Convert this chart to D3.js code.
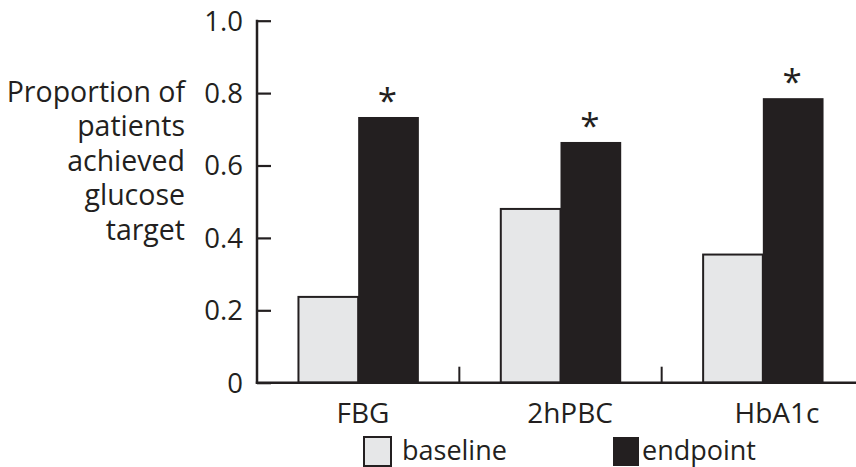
<!DOCTYPE html>
<html>
<head>
<meta charset="utf-8">
<script src="https://cdn.jsdelivr.net/npm/d3@7"></script>
<style>
  html, body { margin: 0; padding: 0; background: #fff; }
  svg { display: block; }
  text { font-family: "Open Sans", sans-serif; fill: #231f20; }
</style>
</head>
<body>
<svg id="chart" width="856" height="467"></svg>
<script>
const categories = ["FBG", "2hPBC", "HbA1c"];
const seriesNames = ["baseline", "endpoint"];
const baselineValues = [0.237, 0.48, 0.354];
const endpointValues = [0.734, 0.665, 0.786];
const significant = [true, true, true];
const yTicks = [0, 0.2, 0.4, 0.6, 0.8, 1.0];
const yTickLabels = ["0", "0.2", "0.4", "0.6", "0.8", "1.0"];
const yTitleLines = ["Proportion of", "patients", "achieved", "glucose", "target"];

const INK = "#231f20";
const LIGHT = "#e6e7e8";
const colors = { baseline: LIGHT, endpoint: INK };

const svg = d3.select("#chart");
const FS = 27.5;

const x0 = 257, x1 = 864;
const y = d3.scaleLinear().domain([0, 1]).range([382.7, 20.7]);

const xBand = d3.scaleBand().domain(categories).range([x0, x1])
  .paddingInner(0.4).paddingOuter(0.2);
const xInner = d3.scaleBand().domain(seriesNames).range([0, xBand.bandwidth()]).padding(0);
const xLabel = d3.scaleBand().domain(categories).range([259.5, 880.5]).padding(0);

const rows = categories.map((c, i) => ({
  cat: c, baseline: baselineValues[i], endpoint: endpointValues[i], sig: significant[i]
}));

// bars
const groups = svg.append("g").selectAll("g").data(rows).join("g")
  .attr("transform", d => `translate(${xBand(d.cat)},0)`);

groups.selectAll("rect").data(d => seriesNames.map(s => ({ s, v: d[s] }))).join("rect")
  .attr("x", d => xInner(d.s) + (d.s === "baseline" ? 1 : 0))
  .attr("width", d => xInner.bandwidth() - (d.s === "baseline" ? 1 : 0))
  .attr("y", d => y(d.v))
  .attr("height", d => y(0) - y(d.v))
  .attr("fill", d => colors[d.s])
  .attr("stroke", d => d.s === "baseline" ? INK : "none")
  .attr("stroke-width", 2);

// asterisks
groups.filter(d => d.sig).append("text")
  .attr("x", xInner("endpoint") + xInner.bandwidth() / 2 - 1)
  .attr("y", d => y(d.endpoint) - 4)
  .attr("text-anchor", "middle")
  .style("font-size", "35px")
  .text("*");

// y axis
const yAxisG = svg.append("g").attr("transform", `translate(${x0},0)`);
yAxisG.call(d3.axisRight(y).tickValues(yTicks).tickSize(14).tickFormat(""))
  .call(g => g.select(".domain").remove())
  .call(g => g.selectAll(".tick line").attr("stroke", INK).attr("stroke-width", 2.2));
yAxisG.append("line").attr("x1", 0).attr("x2", 0)
  .attr("y1", y(1) - 1).attr("y2", y(0) + 1)
  .attr("stroke", INK).attr("stroke-width", 2.5);

svg.append("g").selectAll("text").data(yTicks).join("text")
  .attr("x", 243)
  .attr("y", d => y(d))
  .attr("dy", "0.36em")
  .attr("text-anchor", "end")
  .style("font-size", FS + "px")
  .text((d, i) => yTickLabels[i]);

// y title
svg.append("g").selectAll("text").data(yTitleLines).join("text")
  .attr("x", 185)
  .attr("y", (d, i) => 102 + i * 34.4)
  .attr("text-anchor", "end")
  .style("font-size", "28.5px")
  .text(d => d);

// x axis
svg.append("line").attr("x1", x0 - 1.2).attr("x2", 856)
  .attr("y1", y(0)).attr("y2", y(0))
  .attr("stroke", INK).attr("stroke-width", 2.5);

const dividers = categories.slice(1).map(c => xBand(c) - xBand.step() * xBand.paddingInner() / 2);
svg.append("g").selectAll("line").data(dividers).join("line")
  .attr("x1", d => d).attr("x2", d => d)
  .attr("y1", y(0)).attr("y2", y(0) - 16)
  .attr("stroke", INK).attr("stroke-width", 2);

svg.append("g").selectAll("text").data(categories).join("text")
  .attr("x", d => xLabel(d) + xLabel.bandwidth() / 2)
  .attr("y", 423)
  .attr("text-anchor", "middle")
  .style("font-size", "28px")
  .text(d => d);

// legend
const legendX = d3.scaleOrdinal().domain(seriesNames).range([363, 613]);
const leg = svg.append("g").selectAll("g").data(seriesNames).join("g")
  .attr("transform", d => `translate(${legendX(d)},436)`);
leg.append("rect")
  .attr("x", d => d === "baseline" ? 1 : 0)
  .attr("y", 1)
  .attr("width", d => d === "baseline" ? 27 : 26)
  .attr("height", 29)
  .attr("fill", d => colors[d])
  .attr("stroke", d => d === "baseline" ? INK : "none")
  .attr("stroke-width", 2);
leg.append("text")
  .attr("x", d => d === "baseline" ? 39 : 29)
  .attr("y", 24)
  .style("font-size", "27px")
  .text(d => d);
</script>
</body>
</html>
